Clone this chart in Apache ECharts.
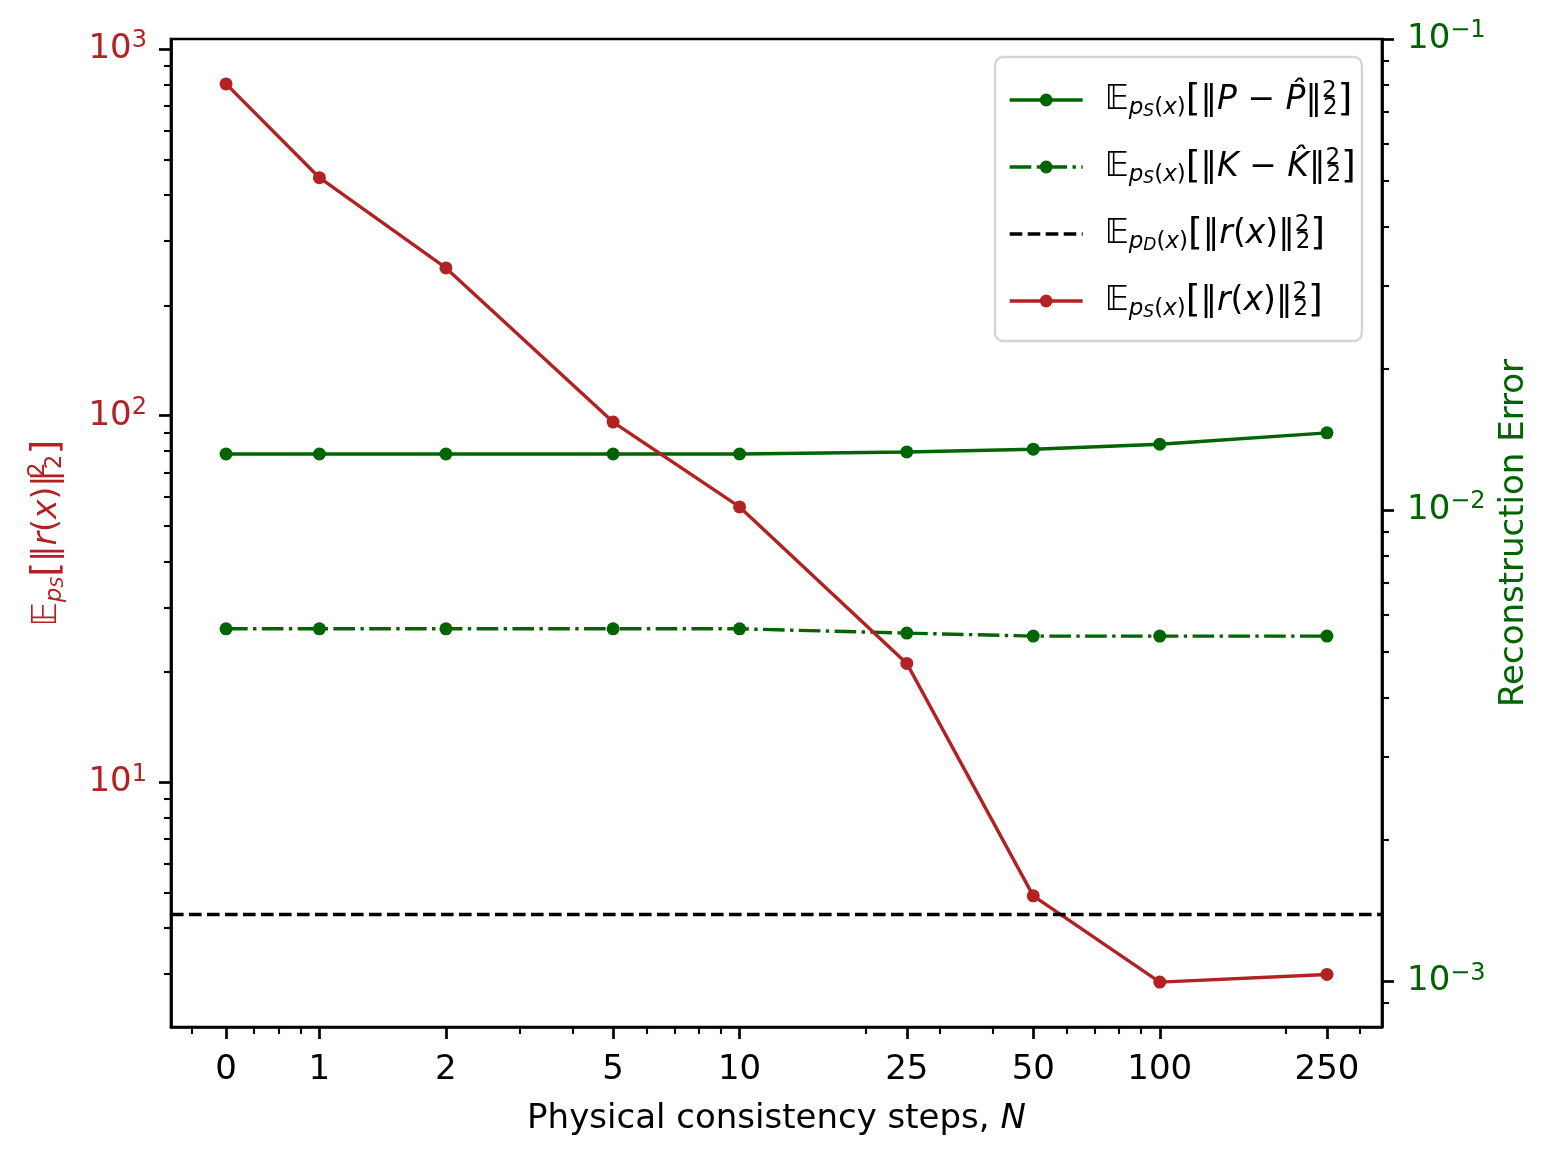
<!DOCTYPE html>
<html>
<head>
<meta charset="utf-8">
<script src="https://cdn.jsdelivr.net/npm/echarts@6/dist/echarts.min.js"></script>
<style>
    html, body { margin: 0; padding: 0; background: #fff; }
    #chart { width: 1559px; height: 1162px; }
</style>
</head>
<body>
<div id="chart"></div>
<script>
// values
const steps = [0, 1, 2, 5, 10, 25, 50, 100, 250];
const stepLabels = ['0', '1', '2', '5', '10', '25', '50', '100', '250'];
const stepMinor = [-0.37, 0.3, 0.56, 0.8, 3, 4, 6, 7, 8, 9, 20, 30, 40, 60, 70, 80, 90, 200, 300];
const residualSynth = [804, 446, 253, 96.1, 56.4, 21.1, 4.90, 2.85, 2.99];
const residualData = 4.40;
const errP = [0.01316, 0.01316, 0.01316, 0.01316, 0.01316, 0.01329, 0.01347, 0.0138, 0.01459];
const errK = [0.0056, 0.0056, 0.0056, 0.0056, 0.0056, 0.005484, 0.005404, 0.005404, 0.005404];
const leftDecades = [1, 2, 3];
const rightDecades = [-3, -2, -1];
const rightLimits = [8e-4, 0.1];

const RED = '#b22222';
const GREEN = '#006400';
const FONT = 'DejaVu Sans';
// symlog, linthresh 1, linscale 0.2
const LINSCALE = 0.2 / (1 - 1 / 10);

function symlog(n) {
    let a = Math.abs(n);
    return a <= 1 ? n * LINSCALE : Math.sign(n) * (LINSCALE + Math.log10(a));
}

let xs = steps.map(symlog);
let xPad = 0.05 * (xs[xs.length - 1] - xs[0]);
const X_MIN = xs[0] - xPad, X_MAX = xs[xs.length - 1] + xPad;

let logS = residualSynth.map(Math.log10);
let lo = Math.min(...logS), hi = Math.max(...logS);
const L_MIN = lo - 0.05 * (hi - lo), L_MAX = hi + 0.05 * (hi - lo);
const R_MIN = Math.log10(rightLimits[0]), R_MAX = Math.log10(rightLimits[1]);

// 2..9 x 10^k inside the range
function minorLog(min, max) {
    let out = [];
    for (let d = Math.floor(min) - 1; d <= Math.ceil(max); d++) {
        for (let k = 2; k <= 9; k++) {
            let v = d + Math.log10(k);
            if (v > min + 1e-3 && v < max - 1e-3) out.push(v);
        }
    }
    return out;
}

function decadeLabel(v) {
    let e = Math.round(v);
    return '{b|10}{s|' + (e < 0 ? '\u2212' + (-e) : e) + '}';
}

function decadeRich(color) {
    return {
        b: { fontSize: 34, lineHeight: 40, color: color, fontFamily: FONT },
        s: { fontSize: 24, lineHeight: 20, verticalAlign: 'top', color: color, fontFamily: FONT }
    };
}

function mathRich(color) {
    return {
        g: { width: 17 },
        E: { fontSize: 33, lineHeight: 40, color: color, fontFamily: FONT },
        sub: { fontSize: 23, lineHeight: 27, verticalAlign: 'bottom', fontStyle: 'italic', color: color, fontFamily: FONT },
        subu: { fontSize: 23, lineHeight: 27, verticalAlign: 'bottom', color: color, fontFamily: FONT },
        ss: { fontSize: 17, lineHeight: 18, verticalAlign: 'bottom', fontStyle: 'italic', color: color, fontFamily: FONT },
        br: { fontSize: 38, lineHeight: 40, color: color, fontFamily: FONT },
        t: { fontSize: 33, lineHeight: 40, color: color, fontFamily: FONT },
        i: { fontSize: 33, lineHeight: 40, fontStyle: 'italic', color: color, fontFamily: FONT },
        sup: { fontSize: 23, lineHeight: 20, verticalAlign: 'top', width: 1, color: color, fontFamily: FONT },
        sb: { fontSize: 23, lineHeight: 24, verticalAlign: 'bottom', color: color, fontFamily: FONT }
    };
}

const sq = '{t|\u2016}{sup|2}{sb|2}{br|]}';
const legendText = {
    P: '{g|}{E|\uD835\uDD3C}{sub|p}{ss|S}{subu|(}{sub|x}{subu|)}{br|[}{t|\u2016}{i|P}{t| \u2212 }{i|P\u0302}' + sq,
    K: '{g|}{E|\uD835\uDD3C}{sub|p}{ss|S}{subu|(}{sub|x}{subu|)}{br|[}{t|\u2016}{i|K}{t| \u2212 }{i|K\u0302}' + sq,
    rD: '{g|}{E|\uD835\uDD3C}{sub|p}{ss|D}{subu|(}{sub|x}{subu|)}{br|[}{t|\u2016}{i|r}{t|(}{i|x}{t|)}' + sq,
    rS: '{g|}{E|\uD835\uDD3C}{sub|p}{ss|S}{subu|(}{sub|x}{subu|)}{br|[}{t|\u2016}{i|r}{t|(}{i|x}{t|)}' + sq
};
const leftName = '{E|\uD835\uDD3C}{sub|p}{ss|S}{br|[}{t|\u2016}{i|r}{t|(}{i|x}{t|)}' + sq;

function nearestLabel(v) {
    let best = 0;
    xs.forEach((x, i) => { if (Math.abs(x - v) < Math.abs(xs[best] - v)) best = i; });
    return stepLabels[best];
}

const spine = { show: true, onZero: false, lineStyle: { color: '#000', width: 2.7 } };
const noLine = { show: false, onZero: false };

function pairs(values) {
    return xs.map((x, i) => [x, Math.log10(values[i])]);
}

let chart = echarts.init(document.getElementById('chart'), null, { renderer: 'canvas' });

chart.setOption({
    animation: false,
    backgroundColor: '#fff',
    textStyle: { fontFamily: FONT },
    grid: {
        left: 171, right: 177, top: 39, bottom: 135,
        show: true, borderColor: '#000', borderWidth: 2.7,
        outerBoundsMode: 'none'
    },
    legend: {
        orient: 'vertical',
        left: 995, top: 57,
        padding: [23, 6, 20, 13],
        itemWidth: 73, itemHeight: 16, itemGap: 27,
        backgroundColor: 'rgba(255,255,255,0.8)',
        borderColor: '#d6d6d6', borderWidth: 2.5, borderRadius: 8,
        selectedMode: false,
        lineStyle: { width: 3.4 },
        data: [{ name: 'P' }, { name: 'K' }, { name: 'rD', itemStyle: { opacity: 0 } }, { name: 'rS' }],
        formatter: name => legendText[name],
        textStyle: { rich: mathRich('#000') }
    },
    xAxis: [{
        type: 'value', position: 'bottom', min: X_MIN, max: X_MAX,
        axisLine: spine,
        axisTick: { show: true, inside: false, length: 12, lineStyle: { color: '#000', width: 2.7 }, customValues: xs },
        axisLabel: { customValues: xs, margin: 26, fontSize: 34, color: '#000', fontFamily: FONT, formatter: nearestLabel },
        splitLine: { show: false },
        name: '{n|Physical consistency steps, }{i|N}',
        nameLocation: 'middle', nameGap: 75, nameMoveOverlap: false,
        nameTextStyle: {
            rich: {
                n: { fontSize: 34, color: '#000', fontFamily: FONT },
                i: { fontSize: 34, color: '#000', fontStyle: 'italic', fontFamily: FONT }
            }
        }
    }, {
        type: 'value', position: 'bottom', min: X_MIN, max: X_MAX,
        axisLine: noLine,
        axisTick: { show: true, inside: false, length: 7, lineStyle: { color: '#000', width: 2.1 }, customValues: stepMinor.map(symlog) },
        axisLabel: { show: false },
        splitLine: { show: false }
    }],
    yAxis: [{
        type: 'value', position: 'left', min: L_MIN, max: L_MAX,
        axisLine: spine,
        axisTick: { show: true, inside: false, length: 12, lineStyle: { color: '#000', width: 2.7 }, customValues: leftDecades },
        axisLabel: { customValues: leftDecades, margin: 24, formatter: decadeLabel, rich: decadeRich(RED) },
        splitLine: { show: false },
        name: leftName, nameLocation: 'middle', nameRotate: 90, nameGap: 104, nameMoveOverlap: false,
        nameTextStyle: { rich: mathRich(RED) }
    }, {
        type: 'value', position: 'right', min: R_MIN, max: R_MAX,
        axisLine: spine,
        axisTick: { show: true, inside: false, length: 12, lineStyle: { color: '#000', width: 2.7 }, customValues: rightDecades },
        axisLabel: { customValues: rightDecades, margin: 25, formatter: decadeLabel, rich: decadeRich(GREEN) },
        splitLine: { show: false },
        name: 'Reconstruction Error', nameLocation: 'middle', nameRotate: 90, nameGap: 112, nameMoveOverlap: false,
        nameTextStyle: { fontSize: 34, color: GREEN, fontFamily: FONT, lineHeight: 40 }
    }, {
        type: 'value', position: 'left', min: L_MIN, max: L_MAX,
        axisLine: noLine,
        axisTick: { show: true, inside: false, length: 7, lineStyle: { color: '#000', width: 2.1 }, customValues: minorLog(L_MIN, L_MAX) },
        axisLabel: { show: false },
        splitLine: { show: false }
    }, {
        type: 'value', position: 'right', min: R_MIN, max: R_MAX,
        axisLine: noLine,
        axisTick: { show: true, inside: false, length: 7, lineStyle: { color: '#000', width: 2.1 }, customValues: minorLog(R_MIN, R_MAX) },
        axisLabel: { show: false },
        splitLine: { show: false }
    }],
    series: [{
        name: 'P', type: 'line', xAxisIndex: 0, yAxisIndex: 1,
        data: pairs(errP),
        symbol: 'circle', symbolSize: 13, z: 2,
        lineStyle: { color: GREEN, width: 3.4 },
        itemStyle: { color: GREEN, borderWidth: 0 },
        emphasis: { disabled: true }
    }, {
        name: 'K', type: 'line', xAxisIndex: 0, yAxisIndex: 1,
        data: pairs(errK),
        symbol: 'circle', symbolSize: 13, z: 2,
        lineStyle: { color: GREEN, width: 3.4, type: [21.6, 5.4, 3.4, 5.4] },
        itemStyle: { color: GREEN, borderWidth: 0 },
        emphasis: { disabled: true }
    }, {
        name: 'rD', type: 'line', xAxisIndex: 0, yAxisIndex: 0,
        data: [],
        symbol: 'circle',
        lineStyle: { color: '#000', width: 3.4, type: [12.6, 5.4] },
        itemStyle: { color: '#000', opacity: 0 },
        markLine: {
            silent: true, symbol: ['none', 'none'], animation: false,
            label: { show: false },
            lineStyle: { color: '#000', width: 3.4, type: [12.6, 5.4] },
            emphasis: { disabled: true },
            data: [{ yAxis: Math.log10(residualData) }]
        }
    }, {
        name: 'rS', type: 'line', xAxisIndex: 0, yAxisIndex: 0,
        data: pairs(residualSynth),
        symbol: 'circle', symbolSize: 13, z: 3,
        lineStyle: { color: RED, width: 3.4 },
        itemStyle: { color: RED, borderWidth: 0 },
        emphasis: { disabled: true }
    }]
});
</script>
</body>
</html>
